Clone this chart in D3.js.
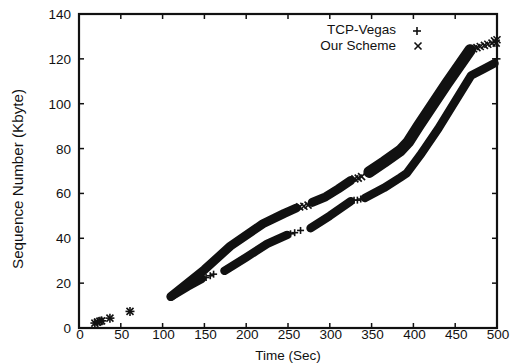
<!DOCTYPE html>
<html>
<head>
<meta charset="utf-8">
<script src="https://cdnjs.cloudflare.com/ajax/libs/d3/7.8.5/d3.min.js"></script>
<style>
    html, body { margin: 0; padding: 0; background: #fff; }
    svg { display: block; }
    text { font-family: "Liberation Sans", Arial, Helvetica, sans-serif; fill: #111; }
</style>
</head>
<body>
<div id="chart"></div>
<script>
// Ticks
var xTicks = [0, 50, 100, 150, 200, 250, 300, 350, 400, 450, 500];
var yTicks = [0, 20, 40, 60, 80, 100, 120, 140];

// Start-up points, shared by both schemes
var startPoints = [[19, 2.2], [22, 2.6], [25, 3.0], [27, 3.2], [37, 4.4], [61, 7.4]];

// TCP-Vegas: dense runs (drawn as a band) and isolated '+' marks
var vegasRuns = [
    [[110, 14], [130, 18.5], [147, 22]],
    [[174, 25.5], [200, 31.5], [225, 37.5], [249, 41.5]],
    [[277, 44.5], [300, 50], [325, 56.5]],
    [[342, 58], [365, 62.5], [384, 67], [392, 69], [408, 77], [430, 89],
     [469, 112.6], [484, 115.5], [497, 118]]
];
var vegasMarks = [[152, 22.5], [157, 23.3], [161, 24], [253, 42], [258, 42.5],
    [265, 43.5], [329, 57], [333, 57], [337, 57.5], [500, 120]];

// Our Scheme: dense runs and isolated 'x' marks
var oursRuns = [
    [[110, 14], [150, 26], [181, 36.5], [220, 46.5], [245, 51], [260, 53.5]],
    [[279, 56], [295, 58.5], [310, 62], [325, 65.8]],
    [[347, 69.5], [365, 74], [384, 79], [394, 83], [406, 90], [440, 109], [468, 124]]
];
var oursMarks = [[264, 54], [269, 54.3], [274, 54.8], [330, 66.5], [334, 66.8],
    [338, 67.5], [472, 124.5], [476, 125], [480, 125.5], [485, 126], [489, 126.5],
    [494, 127], [497, 128], [499, 127], [500, 128.5]];

var width = 517;
var height = 364;
var plot = {left: 79, right: 497, top: 14, bottom: 328};

var x = d3.scaleLinear().domain([0, 500]).range([plot.left, plot.right]);
var y = d3.scaleLinear().domain([0, 140]).range([plot.bottom, plot.top]);

var svg = d3.select('#chart').append('svg')
    .attr('width', width)
    .attr('height', height);

/**
 * Draw a '+' or 'x' marker centred on (cx, cy).
 */
function drawMarker(selection, cx, cy, kind, size) {
    var r = size / 2;
    var g = selection.append('g')
        .attr('transform', 'translate(' + cx + ',' + cy + ')')
        .attr('stroke', '#111')
        .attr('stroke-width', 1.6);
    if (kind == 'plus') {
        g.append('line').attr('x1', -r).attr('y1', 0).attr('x2', r).attr('y2', 0);
        g.append('line').attr('x1', 0).attr('y1', -r).attr('x2', 0).attr('y2', r);
    } else {
        g.append('line').attr('x1', -r).attr('y1', -r).attr('x2', r).attr('y2', r);
        g.append('line').attr('x1', -r).attr('y1', r).attr('x2', r).attr('y2', -r);
    }
}

/**
 * Draw the dense runs of a series as thick bands.
 */
function drawRuns(selection, runs, bandWidth) {
    var line = d3.line()
        .x(function (d) { return x(d[0]); })
        .y(function (d) { return y(d[1]); });

    selection.append('g')
        .selectAll('path')
            .data(runs)
        .enter().append('path')
            .attr('d', line)
            .attr('fill', 'none')
            .attr('stroke', '#111')
            .attr('stroke-linecap', 'round')
            .attr('stroke-linejoin', 'round')
            .attr('stroke-width', function (d, i) { return bandWidth(i); });
}

function drawMarks(selection, points, kind, size) {
    var g = selection.append('g');
    points.forEach(function (p) {
        drawMarker(g, x(p[0]), y(p[1]), kind, size);
    });
}

var data = svg.append('g').attr('class', 'data');

drawRuns(data, vegasRuns, function () { return 8.5; });
drawRuns(data, oursRuns, function (i) { return i == 2 ? 11.5 : 9; });
drawMarks(data, vegasMarks, 'plus', 7);
drawMarks(data, oursMarks, 'cross', 7);
drawMarks(data, startPoints, 'plus', 9);
drawMarks(data, startPoints, 'cross', 7);

// Frame and mirrored inward ticks
var frame = svg.append('g').attr('class', 'frame');

frame.append('rect')
    .attr('x', plot.left)
    .attr('y', plot.top)
    .attr('width', plot.right - plot.left)
    .attr('height', plot.bottom - plot.top)
    .attr('fill', 'none')
    .attr('stroke', '#111')
    .attr('stroke-width', 2.2);

var tickLen = 5;

frame.append('g')
    .selectAll('line')
        .data(xTicks.slice(1, -1))
    .enter().append('line')
        .attr('x1', function (d) { return x(d); })
        .attr('x2', function (d) { return x(d); })
        .attr('y1', plot.bottom)
        .attr('y2', plot.bottom - tickLen)
        .attr('stroke', '#111')
        .attr('stroke-width', 1.5);

frame.append('g')
    .selectAll('line')
        .data(xTicks.slice(1, -1))
    .enter().append('line')
        .attr('x1', function (d) { return x(d); })
        .attr('x2', function (d) { return x(d); })
        .attr('y1', plot.top)
        .attr('y2', plot.top + tickLen)
        .attr('stroke', '#111')
        .attr('stroke-width', 1.5);

frame.append('g')
    .selectAll('line')
        .data(yTicks.slice(1, -1))
    .enter().append('line')
        .attr('x1', plot.left)
        .attr('x2', plot.left + tickLen)
        .attr('y1', function (d) { return y(d); })
        .attr('y2', function (d) { return y(d); })
        .attr('stroke', '#111')
        .attr('stroke-width', 1.5);

frame.append('g')
    .selectAll('line')
        .data(yTicks.slice(1, -1))
    .enter().append('line')
        .attr('x1', plot.right)
        .attr('x2', plot.right - tickLen)
        .attr('y1', function (d) { return y(d); })
        .attr('y2', function (d) { return y(d); })
        .attr('stroke', '#111')
        .attr('stroke-width', 1.5);

// Tick labels
svg.append('g')
    .selectAll('text')
        .data(xTicks)
    .enter().append('text')
        .attr('x', function (d) { return x(d) + 1; })
        .attr('y', 339)
        .attr('text-anchor', 'middle')
        .style('font-size', '13.5px')
        .text(function (d) { return d; });

svg.append('g')
    .selectAll('text')
        .data(yTicks)
    .enter().append('text')
        .attr('x', 71)
        .attr('y', function (d) { return y(d) + 5; })
        .attr('text-anchor', 'end')
        .style('font-size', '13.5px')
        .text(function (d) { return d; });

// Axis titles
svg.append('text')
    .attr('x', 288)
    .attr('y', 360)
    .attr('text-anchor', 'middle')
    .style('font-size', '13.5px')
    .text('Time (Sec)');

svg.append('text')
    .attr('transform', 'translate(23,179) rotate(-90)')
    .attr('text-anchor', 'middle')
    .attr('textLength', 180)
    .attr('lengthAdjust', 'spacingAndGlyphs')
    .style('font-size', '14.5px')
    .text('Sequence Number (Kbyte)');

// Legend
var legend = svg.append('g').attr('class', 'legend');
legend.append('text')
    .attr('x', 396)
    .attr('y', 34)
    .attr('text-anchor', 'end')
    .style('font-size', '13.5px')
    .text('TCP-Vegas');
legend.append('text')
    .attr('x', 396)
    .attr('y', 50)
    .attr('text-anchor', 'end')
    .style('font-size', '13.5px')
    .text('Our Scheme');
drawMarker(legend, 417, 31, 'plus', 8);
drawMarker(legend, 418, 46, 'cross', 7);
</script>
</body>
</html>
